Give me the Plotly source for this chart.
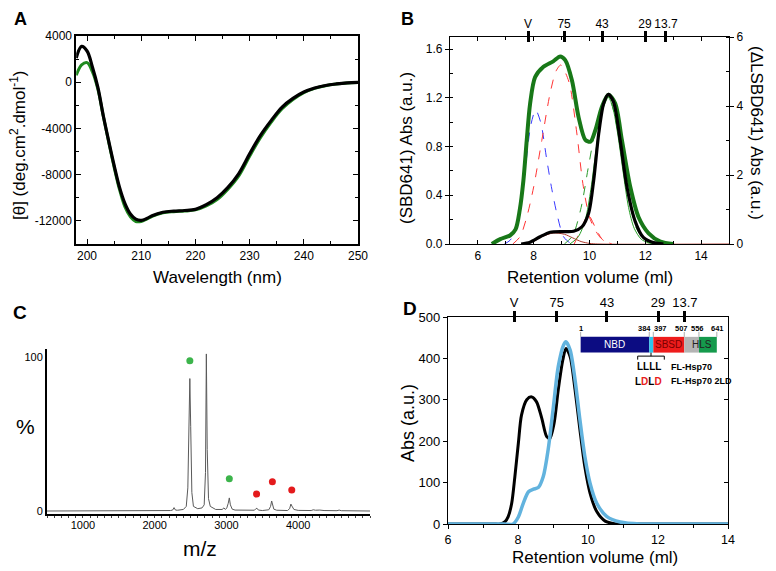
import plotly.graph_objects as go

# page body has an 8px margin; the figure is sized to fit the 776x571 window
OFF = 8
W, H = 776 - OFF, 571 - OFF
FONT = "Liberation Sans, Arial, sans-serif"

# ---------------- Panel A data (CD spectra) ----------------
wl = [198, 199, 200, 201, 202, 203, 204, 205, 206, 207, 208, 209, 210, 211, 212, 214, 216, 218, 220,
      222, 224, 226, 228, 230, 232, 234, 236, 238, 240, 242, 244, 246, 248, 250]
cd_black = [2100, 3100, 2700, 1300, -450, -2900, -5100, -7200, -9100, -10500, -11400, -11850, -11950,
            -11800, -11550, -11250, -11150, -11100, -11000, -10600, -10000, -9100, -7900, -6200, -4600,
            -3300, -2150, -1400, -850, -500, -280, -150, -60, -20]
cd_green = [600, 1500, 1700, 900, -600, -2950, -5200, -7350, -9300, -10800, -11650, -12050, -12050,
            -11850, -11600, -11300, -11200, -11150, -11050, -10700, -10150, -9250, -8100, -6400, -4800,
            -3450, -2300, -1500, -900, -530, -300, -160, -70, -25]
a_yticks = [4000, 0, -4000, -8000, -12000]
a_yticktext = ["4000", "0", "-4000", "-8000", "-12000"]

# ---------------- Panel B data (SEC) ----------------
b_vol_green = [6.5, 6.8, 7.15, 7.35, 7.5, 7.63, 7.75, 7.87, 8.05, 8.35, 8.7, 8.95, 9.13, 9.37, 9.61,
               9.85, 10.03, 10.21, 10.45, 10.68, 10.92, 11.16, 11.46, 11.76, 12.12, 12.54, 13.0]
b_abs_green = [0, 0.04, 0.07, 0.12, 0.28, 0.52, 0.85, 1.15, 1.37, 1.455, 1.5, 1.54, 1.51, 1.345, 1.04,
               0.855, 0.84, 0.935, 1.13, 1.225, 1.155, 0.855, 0.47, 0.22, 0.088, 0.02, 0]
b_vol_black = [7.55, 7.87, 8.23, 8.59, 9.07, 9.43, 9.73, 9.97, 10.15, 10.33, 10.51, 10.68, 10.86, 11.1,
               11.34, 11.64, 11.93, 12.29, 12.65]
b_abs_black = [0, 0.05, 0.21, 0.34, 0.36, 0.37, 0.5, 0.9, 1.85, 3.2, 4.08, 4.34, 4.12, 3.0, 1.66, 0.65,
               0.19, 0.04, 0]
b_vol_blue = [6.95, 7.15, 7.33, 7.51, 7.63, 7.75, 7.9, 8.07, 8.25, 8.47, 8.65, 8.83, 9.07, 9.3, 9.5]
b_fit_blue = [0, 0.03, 0.1, 0.28, 0.47, 0.72, 0.98, 1.1, 1.0, 0.69, 0.45, 0.25, 0.06, 0.01, 0]
b_vol_red = [7.25, 7.51, 7.75, 8.0, 8.29, 8.59, 8.8, 8.97, 9.15, 9.3, 9.54, 9.78, 10.03, 10.4, 10.8]
b_fit_red = [0, 0.06, 0.22, 0.47, 0.85, 1.24, 1.42, 1.47, 1.4, 1.3, 0.92, 0.47, 0.2, 0.05, 0]
b_vol_red2 = [9.45, 9.7, 9.95, 10.2, 10.45, 10.7]
b_fit_red2 = [0, 0.12, 0.24, 0.14, 0.04, 0]
b_vol_gdash = [9.1, 9.4, 9.7, 9.95, 10.2, 10.4, 10.58, 10.75, 10.95, 11.2, 11.45, 11.7, 12.0, 12.3]
b_fit_gdash = [0, 0.07, 0.3, 0.62, 0.93, 1.12, 1.2, 1.17, 1.0, 0.65, 0.33, 0.12, 0.03, 0]
b_vol_gthin = [9.3, 9.6, 9.85, 10.05, 10.25, 10.45, 10.62, 10.8, 11.0, 11.2, 11.4, 11.6, 11.85, 12.1, 12.3]
b_fit_gthin = [0, 0.06, 0.2, 0.45, 0.8, 1.1, 1.22, 1.15, 0.92, 0.6, 0.3, 0.13, 0.04, 0.01, 0]
b_vol_rthin = [8.0, 8.3, 8.7, 9.1, 9.4, 9.7, 10.0, 10.3, 15.0]
b_fit_rthin = [0.02, 0.06, 0.09, 0.08, 0.05, 0.02, 0.005, 0, 0]
b_marker_vol = [7.8, 9.09, 10.45, 11.99, 12.74]
marker_labels = ["V", "75", "43", "29", "13.7"]
b_yticks = [0, 0.4, 0.8, 1.2, 1.6]
b_yticktext = ["0.0", "0.4", "0.8", "1.2", "1.6"]

# ---------------- Panel C data (native MS) ----------------
mz = [500, 2150, 2220, 2250, 2270, 2290, 2320, 2400, 2440, 2462, 2478, 2490, 2502, 2518, 2540, 2600,
      2660, 2690, 2708, 2720, 2732, 2750, 2775, 2850, 2940, 2965, 2985, 3005, 3025, 3040, 3055, 3080,
      3120, 3300, 3390, 3410, 3425, 3445, 3500, 3590, 3615, 3630, 3642, 3660, 3700, 3850, 3880, 3898,
      3912, 3940, 4000, 4180, 4210, 4240, 4300, 4360, 4540, 4570, 4600, 4780, 4820, 4860, 5000]
intensity = [0, 0, 0.3, 0.6, 2.2, 0.6, 0.5, 1.0, 3, 15, 60, 86, 55, 12, 3, 1.5,
             2.0, 4, 25, 102, 40, 8, 3, 1.0, 1.0, 2.0, 1.0, 2.0, 5, 8.5, 4, 1.2,
             0.6, 0.3, 0.5, 1.5, 1.8, 0.6, 0.3, 0.8, 3, 6.5, 4, 1.2, 0.5, 0.3, 1.5, 4.5,
             3.2, 1.0, 0.4, 0.3, 0.8, 0.5, 0.6, 0.3, 0.2, 0.6, 0.2, 0.2, 0.4, 0.2, 0]
dot_mz = [2490, 2720, 3040, 3420, 3640, 3910]
dot_y = [97.5, 112, 21, 11, 19, 13.7]
dot_colors = ["#3cb44b", "#3cb44b", "#3cb44b", "#e41a1c", "#e41a1c", "#e41a1c"]
c_xticks = [1000, 2000, 3000, 4000]
c_xticktext = ["1000", "2000", "3000", "4000"]

# ---------------- Panel D data (SEC FL-Hsp70) ----------------
d_vol_black = [6, 7.3, 7.49, 7.63, 7.72, 7.82, 7.91, 8.01, 8.1, 8.25, 8.39, 8.53, 8.68, 8.82, 8.91, 9.03,
               9.15, 9.28, 9.37, 9.49, 9.63, 9.77, 9.91, 10.06, 10.25, 10.49, 10.82, 11.2, 14]
d_abs_black = [0, 0, 0, 6, 18, 50, 114, 195, 263, 300, 307, 295, 255, 211, 207, 243,
               324, 396, 424, 404, 324, 227, 138, 74, 30, 7, 0, 0, 0]
d_vol_blue = [6, 7.6, 7.86, 8.01, 8.15, 8.3, 8.44, 8.58, 8.72, 8.86, 9.0, 9.15, 9.3, 9.37, 9.49, 9.63,
              9.77, 9.91, 10.06, 10.25, 10.54, 10.92, 11.49, 12.0, 14]
d_abs_blue = [0, 0, 0, 17, 50, 78, 84, 88, 114, 179, 275, 380, 432, 440, 420, 348,
              251, 163, 98, 50, 18, 5, 0, 0, 0]
d_marker_vol = [7.89, 9.11, 10.54, 12.0, 12.77]
residue_labels = ["1", "384", "397", "507", "556", "641"]
domain_colors = ["#0c0c82", "#2ec4ea", "#ee1c1c", "#b4b4b4", "#159a4c"]

fig = go.Figure()

# ---- A traces
fig.add_trace(go.Scatter(x=wl, y=cd_green, mode="lines", line=dict(color="#1f8a1f", width=3, shape="spline"),
                         xaxis="x", yaxis="y", showlegend=False))
fig.add_trace(go.Scatter(x=wl, y=cd_black, mode="lines", line=dict(color="black", width=3.2, shape="spline"),
                         xaxis="x", yaxis="y", showlegend=False))

# ---- B traces
def bline(x, y, color, width, dash="solid", yaxis="y2"):
    fig.add_trace(go.Scatter(x=x, y=y, mode="lines",
                             line=dict(color=color, width=width, dash=dash, shape="spline", smoothing=0.8),
                             xaxis="x2", yaxis=yaxis, showlegend=False))

bline(b_vol_rthin, b_fit_rthin, "#b03a2e", 1)
bline(b_vol_blue, b_fit_blue, "#3a3aff", 1, "dash")
bline(b_vol_red, b_fit_red, "#ff3535", 1, "dash")
bline(b_vol_red2, b_fit_red2, "#ff3535", 1, "dash")
bline(b_vol_gdash, b_fit_gdash, "#2a9a2a", 1, "dash")
bline(b_vol_gthin, b_fit_gthin, "#2aa02a", 1)
bline(b_vol_green, b_abs_green, "#187818", 4)
bline(b_vol_black, b_abs_black, "black", 3.2, yaxis="y3")
for ax in ["x5", "x6"]:
    fig.add_trace(go.Scatter(x=b_marker_vol, y=[None] * len(b_marker_vol), mode="markers",
                             xaxis=ax, yaxis="y2", showlegend=False, hoverinfo="skip"))

# ---- C traces
fig.add_trace(go.Scatter(x=mz, y=intensity, mode="lines", line=dict(color="#5a5a5a", width=1),
                         xaxis="x3", yaxis="y4", showlegend=False))
fig.add_trace(go.Scatter(x=dot_mz, y=dot_y, mode="markers", marker=dict(color=dot_colors, size=7),
                         xaxis="x3", yaxis="y4", showlegend=False, cliponaxis=False))

# ---- D traces
fig.add_trace(go.Scatter(x=d_vol_black, y=d_abs_black, mode="lines",
                         line=dict(color="black", width=3, shape="spline", smoothing=0.8),
                         xaxis="x4", yaxis="y5", showlegend=False))
fig.add_trace(go.Scatter(x=d_vol_blue, y=d_abs_blue, mode="lines",
                         line=dict(color="#62b3de", width=3.5, shape="spline", smoothing=0.8),
                         xaxis="x4", yaxis="y5", showlegend=False))
for ax in ["x7", "x8"]:
    fig.add_trace(go.Scatter(x=d_marker_vol, y=[None] * len(d_marker_vol), mode="markers",
                             xaxis=ax, yaxis="y5", showlegend=False, hoverinfo="skip"))
fig.add_trace(go.Scatter(x=[6, 14], y=[None, None], mode="markers", xaxis="x4", yaxis="y6",
                         showlegend=False, hoverinfo="skip"))

def px(x):
    return (x - OFF) / W

def py(y):
    return 1 - (y - OFF) / H

tick_font = dict(family=FONT, size=12, color="black")
common = dict(showgrid=False, zeroline=False, showline=True, linecolor="black", tickcolor="black")

layout = dict(
    width=W, height=H, margin=dict(l=0, r=0, t=0, b=0),
    paper_bgcolor="white", plot_bgcolor="white", template="none",
    font=dict(family=FONT, color="black"), showlegend=False,
    # A
    xaxis=dict(domain=[px(76.2), px(358)], anchor="y", range=[198, 250], tickvals=[200, 210, 220, 230, 240, 250],
               ticks="inside", ticklen=5, linewidth=1.5, mirror="ticks", tickfont=tick_font,
               minor=dict(dtick=5, tick0=200, ticks="inside", ticklen=3, tickcolor="black"), **common),
    yaxis=dict(domain=[py(244), py(36)], anchor="x", range=[-14000, 4000], tickvals=a_yticks, ticktext=a_yticktext,
               ticks="inside", ticklen=5, linewidth=1.5, mirror="ticks", tickfont=tick_font,
               minor=dict(dtick=2000, tick0=0, ticks="inside", ticklen=3, tickcolor="black"), **common),
    # B
    xaxis2=dict(domain=[px(450), px(729)], anchor="y2", range=[5, 15], tickvals=[6, 8, 10, 12, 14],
                ticks="inside", ticklen=4, linewidth=1.3, mirror="ticks", tickfont=tick_font,
                minor=dict(dtick=1, tick0=5, ticks="inside", ticklen=3, tickcolor="black"), **common),
    yaxis2=dict(domain=[py(244), py(37)], anchor="x2", range=[0, 1.7], tickvals=b_yticks, ticktext=b_yticktext,
                ticks="outside", ticklen=4, linewidth=1.3, tickfont=tick_font,
                minor=dict(dtick=0.2, tick0=0, ticks="inside", ticklen=3, tickcolor="black"), **common),
    yaxis3=dict(overlaying="y2", side="right", anchor="x2", range=[0, 6], tickvals=[0, 2, 4, 6],
                ticks="outside", ticklen=4, linewidth=1.3, tickfont=tick_font,
                minor=dict(dtick=1, tick0=0, ticks="inside", ticklen=3, tickcolor="black"), **common),
    xaxis5=dict(overlaying="x2", side="top", anchor="y2", range=[5, 15], tickvals=b_marker_vol,
                ticktext=marker_labels, ticks="outside", ticklen=5, tickwidth=2.5, tickcolor="black",
                showline=False, showgrid=False, zeroline=False, tickfont=tick_font, ticklabelstandoff=-2),
    xaxis6=dict(overlaying="x2", side="top", anchor="y2", range=[5, 15], tickvals=b_marker_vol,
                ticks="inside", ticklen=5, tickwidth=2.5, tickcolor="black", showticklabels=False,
                showline=False, showgrid=False, zeroline=False),
    # C
    xaxis3=dict(domain=[px(47), px(370)], anchor="y4", range=[500, 5000], tickvals=c_xticks, ticktext=c_xticktext,
                ticks="", linewidth=2, tickfont=dict(family=FONT, size=11, color="black"),
                minor=dict(dtick=100, tick0=500, ticks="outside", ticklen=2, tickcolor="#444"), **common),
    yaxis4=dict(domain=[py(514), py(349)], anchor="x3", range=[-1.95, 105.2], tickvals=[0, 100],
                ticks="", linewidth=2, tickfont=dict(family=FONT, size=11, color="black"), **common),
    # D
    xaxis4=dict(domain=[px(448), px(728)], anchor="y5", range=[6, 14], tickvals=[6, 8, 10, 12, 14],
                ticks="outside", ticklen=4, linewidth=1.3, mirror=True, tickfont=dict(family=FONT, size=12.5, color="black"),
                minor=dict(dtick=1, tick0=6, ticks="outside", ticklen=3, tickcolor="black"), **common),
    yaxis5=dict(domain=[py(524), py(317)], anchor="x4", range=[0, 500], tickvals=[0, 100, 200, 300, 400, 500],
                ticks="outside", ticklen=4, linewidth=1.3, mirror=True, tickfont=dict(family=FONT, size=13, color="black"),
                **common),
    yaxis6=dict(overlaying="y5", side="right", anchor="x4", range=[0, 500], tickvals=[0, 100, 200, 300, 400, 500],
                ticks="inside", ticklen=4, showticklabels=False, showline=False, showgrid=False, zeroline=False,
                tickcolor="black"),
    xaxis7=dict(overlaying="x4", side="top", anchor="y5", range=[6, 14], tickvals=d_marker_vol,
                ticktext=marker_labels, ticks="outside", ticklen=5, tickwidth=2.5, tickcolor="black",
                showline=False, showgrid=False, zeroline=False,
                tickfont=dict(family=FONT, size=13, color="black"), ticklabelstandoff=-1),
    xaxis8=dict(overlaying="x4", side="top", anchor="y5", range=[6, 14], tickvals=d_marker_vol,
                ticks="inside", ticklen=5, tickwidth=2.5, tickcolor="black", showticklabels=False,
                showline=False, showgrid=False, zeroline=False),
)
fig.update_layout(**layout)

ann = []
def add_text(text, x, y, size, rot=0, bold=False, xref="paper", yref="paper", color="black",
             xanchor="center", yanchor="middle"):
    ann.append(dict(text=f"<b>{text}</b>" if bold else text, x=x, y=y, xref=xref, yref=yref,
                    showarrow=False, textangle=rot, xanchor=xanchor, yanchor=yanchor,
                    font=dict(family=FONT, size=size, color=color)))

# panel letters
add_text("A", px(20), py(19), 18, bold=True)
add_text("B", px(407), py(19), 18, bold=True)
add_text("C", px(20), py(312), 19, bold=True)
add_text("D", px(410), py(308), 19, bold=True)
# titles
add_text("Wavelength (nm)", px(217), py(277), 17)
add_text("[θ] (deg.cm<sup>2</sup>.dmol<sup>-1</sup>)", px(18), py(145), 17, rot=-90)
add_text("Retention volume (ml)", px(590), py(277), 17)
add_text("(SBD641) Abs (a.u.)", px(406), py(148), 17, rot=-90)
add_text("(ΔLSBD641) Abs (a.u.)", px(757), py(133), 17, rot=90)
add_text("m/z", px(200), py(548), 21)
add_text("%", px(25), py(426), 21)
add_text("Retention volume (ml)", px(595), py(557), 17)
add_text("Abs (a.u.)", px(408), py(423), 18, rot=-90)

# ---- D inset: domain diagram (layout positions in D data coordinates)
seg_edges = [9.79, 11.75, 11.866, 12.75, 13.17, 13.68]
bar_lo, bar_hi = 414, 452
shapes = []
for i, col in enumerate(domain_colors):
    shapes.append(dict(type="rect", xref="x4", yref="y5", x0=seg_edges[i], x1=seg_edges[i + 1],
                       y0=bar_lo, y1=bar_hi, fillcolor=col, line=dict(width=0), layer="above"))
for e in seg_edges:
    shapes.append(dict(type="line", xref="x4", yref="y5", x0=e, x1=e, y0=bar_hi, y1=464,
                       line=dict(color="#999", width=0.8)))
label_pos = [9.79, 11.6, 12.06, 12.68, 13.13, 13.71]
for lab, xp in zip(residue_labels, label_pos):
    add_text(lab, xp, 472, 7.5, bold=True, xref="x4", yref="y5")
add_text("NBD", 10.77, 433, 10, xref="x4", yref="y5", color="white")
add_text("SBSD", 12.31, 433, 10, xref="x4", yref="y5", color="#7a0000")
add_text("HLS", 13.27, 433, 10, xref="x4", yref="y5", color="#222")
# bracket
br = dict(xref="x4", yref="y5", type="line", line=dict(color="black", width=1))
shapes.append(dict(br, x0=11.42, x1=12.18, y0=405.5, y1=405.5))
shapes.append(dict(br, x0=11.42, x1=11.42, y0=405.5, y1=397))
shapes.append(dict(br, x0=12.18, x1=12.18, y0=405.5, y1=397))
shapes.append(dict(br, x0=11.8, x1=11.8, y0=405.5, y1=bar_lo))
add_text("LLLL", 11.74, 380, 10, bold=True, xref="x4", yref="y5")
add_text("L<span style='color:#e8201c'>D</span>L<span style='color:#e8201c'>D</span>", 11.74, 345, 10,
         bold=True, xref="x4", yref="y5")
add_text("FL-Hsp70", 12.3, 380, 9, bold=True, xref="x4", yref="y5", xanchor="left")
add_text("FL-Hsp70 2LD", 12.3, 345, 9, bold=True, xref="x4", yref="y5", xanchor="left")

fig.update_layout(annotations=ann, shapes=shapes)
fig.write_html("out.html")
